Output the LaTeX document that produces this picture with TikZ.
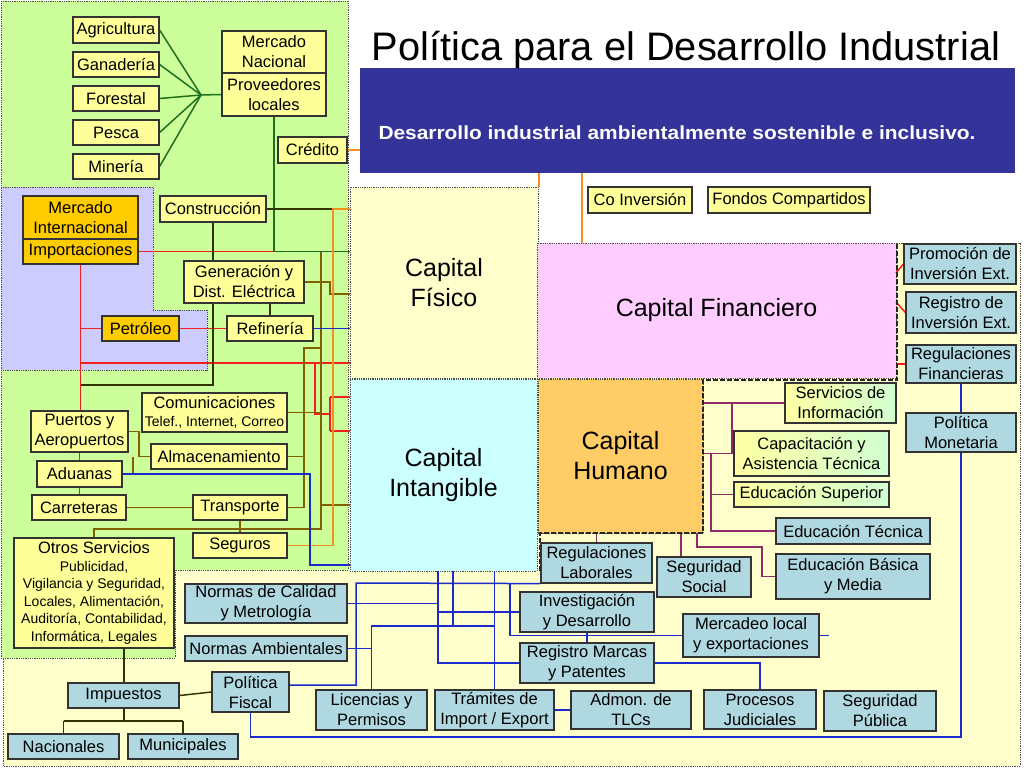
\documentclass[tikz,border=0pt]{standalone}
\usepackage{fontspec}
\setmainfont{Liberation Sans}
\usetikzlibrary{calc}
\definecolor{yel}{HTML}{FFFF99}
\definecolor{ora}{HTML}{FFCC00}
\definecolor{tealb}{HTML}{B0D8E0}
\definecolor{grn}{HTML}{CCFF99}
\definecolor{lav}{HTML}{CCCCFF}
\definecolor{lyel}{HTML}{FFFFCC}
\definecolor{cpink}{HTML}{FFCCFF}
\definecolor{ccyan}{HTML}{CCFFFF}
\definecolor{humc}{HTML}{FFCC66}
\definecolor{navyb}{HTML}{333399}
\definecolor{cdgreen}{HTML}{1F6F1F}
\definecolor{colive}{HTML}{806000}
\definecolor{cdark}{HTML}{333300}
\definecolor{cred}{HTML}{F02020}
\definecolor{corange}{HTML}{F59020}
\definecolor{cblue}{HTML}{1A2ACC}
\definecolor{cpurp}{HTML}{8E2A6A}
\newcommand\mybox[7]{\node[#6, minimum width={(#4)-(#2)}, minimum height={(#5)-(#3)}] (#1) at ({((#2)+(#4))/2},{((#3)+(#5))/2}) {#7};}
\newcommand\smf{\fontsize{14}{17.5}\selectfont}
\newcommand\bgf{\fontsize{16.5}{17.5}\selectfont}
\pgfdeclarelayer{back}
\pgfdeclarelayer{mid}
\pgfsetlayers{back,mid,main}
\tikzset{
 bx/.style={draw=black!80, line width=1.2pt, inner sep=0pt, align=center, font=\fontsize{16.5}{20}\selectfont},
 yb/.style={bx, fill=yel},
 ob/.style={bx, fill=ora},
 tb/.style={bx, fill=tealb},
 gb/.style={bx, left color=yel!90!white, right color=green!18!white},
 capbox/.style={draw=black!70, densely dotted, line width=0.8pt, inner sep=0pt, align=center, font=\fontsize{25}{30}\selectfont},
 lgreen/.style={draw=cdgreen, line width=1.5pt},
 lolive/.style={draw=colive, line width=1.5pt},
 ldark/.style={draw=cdark, line width=1.5pt},
 lred/.style={draw=cred, line width=1.5pt},
 lorange/.style={draw=corange, line width=1.5pt},
 lblue/.style={draw=cblue, line width=1.5pt},
 lpurp/.style={draw=cpurp, line width=1.5pt},
 frame/.style={draw=black!85, line width=2pt, dash pattern=on 5pt off 2pt},
}
\begin{document}
\begin{tikzpicture}[x=1pt,y=-1pt]
\useasboundingbox (0,0) rectangle (1024,768);
\begin{pgfonlayer}{back}
\fill[white] (0,0) rectangle (1024,768);
\fill[lyel] (3,243) rectangle (1020,766);
\draw[densely dotted, black!70, line width=0.8pt] (3,243) rectangle (1020,766);
\fill[grn] (1,1) -- (348,1) -- (348,570) -- (175,570) -- (175,658) -- (1,658) -- cycle;
\draw[densely dotted, black!70, line width=0.8pt] (1,1) -- (348,1) -- (348,570) -- (175,570) -- (175,658) -- (1,658) -- cycle;
\fill[lav] (1,187) -- (153,187) -- (153,310) -- (207,310) -- (207,370) -- (1,370) -- cycle;
\draw[densely dotted, black!70, line width=0.8pt] (1,187) -- (153,187) -- (153,310) -- (207,310) -- (207,370) -- (1,370) -- cycle;
\node[fill=navyb, minimum width=655, minimum height=105, inner sep=0pt] (banner) at (687.5,120.5) {};
\mybox{fis}{350}{187}{538}{378}{capbox, fill=lyel}{Capital\\Físico}
\mybox{fin}{537}{243}{896}{378}{capbox, fill=cpink}{Capital Financiero}
\mybox{intg}{350}{379}{537}{571}{capbox, fill=ccyan}{Capital\\Intangible}
\mybox{hum}{538}{379}{703}{533}{capbox, fill=humc}{Capital\\Humano}
\end{pgfonlayer}
% title and banner text
\node[font=\fontsize{39.8}{44}\selectfont, anchor=base, inner sep=0pt] (title) at (686,60) {Política para el Desarrollo Industrial};
\node[text=white, font=\bfseries\fontsize{19}{22}\selectfont, inner sep=0pt] (bannertext) at (677,133) {\scalebox{1.1}[1]{Desarrollo industrial ambientalmente sostenible e inclusivo.}};
% nodes top-left
\mybox{agri}{73}{17}{159}{43}{yb}{Agricultura}
\mybox{gan}{73}{52}{159}{77}{yb}{Ganadería}
\mybox{fore}{73}{86}{159}{111}{yb}{Forestal}
\mybox{pesc}{73}{120}{159}{145}{yb}{Pesca}
\mybox{mine}{73}{154}{159}{179}{yb}{Minería}
\mybox{mnac}{222}{31}{326}{73}{yb}{Mercado\\Nacional}
\mybox{prov}{222}{73}{326}{116}{yb}{Proveedores\\locales}
\mybox{cred}{278}{137}{347}{163}{yb}{Crédito}
\mybox{const}{160}{196}{266}{222}{yb}{Construcción}
\mybox{mint}{23}{196}{138}{239}{ob}{Mercado\\Internacional}
\mybox{imp}{23}{239}{138}{264}{ob}{Importaciones}
\mybox{gen}{184}{261}{304}{303}{yb}{Generación y\\Dist. Eléctrica}
\mybox{ref}{227}{316}{313}{341}{yb}{Refinería}
\mybox{pet}{102}{316}{179}{341}{ob}{Petróleo}
\mybox{com}{142}{393}{287}{432}{yb, font=\smf}{{\bgf Comunicaciones}\\Telef., Internet, Correo}
\mybox{alm}{151}{444}{287}{469}{yb}{Almacenamiento}
\mybox{pue}{31}{411}{128}{452}{yb}{Puertos y\\Aeropuertos}
\mybox{adu}{37}{461}{122}{487}{yb}{Aduanas}
\mybox{car}{32}{495}{126}{520}{yb}{Carreteras}
\mybox{tra}{193}{495}{287}{520}{yb}{Transporte}
\mybox{seg}{193}{533}{287}{558}{yb}{Seguros}
\mybox{otros}{14}{538}{174}{648}{yb, font=\smf}{{\bgf Otros Servicios}\\Publicidad,\\Vigilancia y Seguridad,\\Locales, Alimentación,\\Auditoría, Contabilidad,\\Informática, Legales}
% bottom and right
\mybox{imp2}{68}{683}{179}{708}{tb}{Impuestos}
\mybox{nac}{8}{734}{119}{759}{tb}{Nacionales}
\mybox{mun}{128}{734}{238}{759}{tb}{Municipales}
\mybox{pfis}{212}{672}{289}{712}{tb}{Política\\Fiscal}
\mybox{ncal}{185}{584}{347}{623}{tb}{Normas de Calidad\\y Metrología}
\mybox{namb}{185}{636}{347}{661}{tb}{Normas Ambientales}
\mybox{lic}{316}{690}{427}{730}{tb}{Licencias y\\Permisos}
\mybox{tram}{435}{690}{554}{730}{tb}{Trámites de\\Import / Export}
\mybox{adm}{571}{691}{691}{729}{tb}{Admon. de\\TLCs}
\mybox{proc}{704}{690}{816}{729}{tb}{Procesos\\Judiciales}
\mybox{segp}{824}{691}{936}{731}{tb}{Seguridad\\Pública}
\mybox{inv}{520}{592}{654}{632}{tb}{Investigación\\y Desarrollo}
\mybox{rmar}{520}{643}{654}{683}{tb}{Registro Marcas\\y Patentes}
\mybox{rlab}{541}{543}{652}{583}{tb}{Regulaciones\\Laborales}
\mybox{ssoc}{657}{557}{751}{597}{tb}{Seguridad\\Social}
\mybox{merc}{683}{614}{819}{657}{tb}{Mercadeo local\\y exportaciones}
\mybox{ebas}{776}{554}{930}{599}{tb}{Educación Básica\\y Media}
\mybox{etec}{776}{518}{930}{544}{tb}{Educación Técnica}
\mybox{esup}{734}{482}{889}{507}{gb}{Educación Superior}
\mybox{capa}{734}{431}{889}{476}{gb}{Capacitación y\\Asistencia Técnica}
\mybox{sinf}{785}{383}{896}{423}{gb}{Servicios de\\Información}
\mybox{pmon}{906}{413}{1016}{452}{tb}{Política\\Monetaria}
\mybox{rfin}{906}{345}{1016}{383}{tb}{Regulaciones\\Financieras}
\mybox{rinv}{906}{292}{1016}{333}{tb}{Registro de\\Inversión Ext.}
\mybox{pinv}{904}{244}{1016}{284}{tb}{Promoción de\\Inversión Ext.}
\mybox{coinv}{588}{187}{692}{213}{yb}{Co Inversión}
\mybox{fondos}{708}{187}{870}{213}{yb}{Fondos Compartidos}
% connectors
\begin{pgfonlayer}{mid}
\coordinate (hub) at (201,95);
\foreach \n in {agri,gan,fore,pesc,mine} \draw[lgreen] (\n.east) -- (hub);
\draw[lgreen] (hub) -- (prov.west);
\draw[lred] (imp.east) -- (274,251.5);
\draw[lgreen] (prov.south) -- (274,251.5) -- (fis.west |- 0,251.5);
\draw[lred] (imp.south) -- (imp.south |- pue.north);
\draw[lred] (80.5,328.5) -- (pet.west);
\draw[lred] (pet.east) -- (ref.west);
\draw[lred] (80.5,363) -- (fis.west |- 0,363);
\draw[lred] (315,363) -- (315,414) -- (330,414) (330,397) -- (330,431) (330,397) -- (intg.west |- 0,397) (330,431) -- (intg.west |- 0,431);
\draw[ldark] (const.east) -- (fis.west |- const.east);
\draw[ldark] (const.south) -- (const.south |- gen.north);
\draw[ldark] (const.south |- gen.south) -- (213,385) -- (80.5,385);
\draw[ldark] (270,303) -- (270,316);
\draw[lolive] (gen.east) -- (330,282) -- (330,294) -- (fis.west |- 0,294);
\draw[lolive] (321,251.5) -- (321,529) -- (94,529) -- (otros.north);
\draw[lolive] (com.east) -- (321,412.5);
\draw[lolive] (alm.east) -- (304,456.5);
\draw[lolive] (tra.east) -- (304,507.5) -- (304,348) -- (321,348);
\draw[lolive] (321,505) -- (intg.west |- 0,505);
\draw[lolive] (pue.east) -- (139,431.5) -- (139,456.5) -- (alm.west);
\draw[lolive] (133,456.5) -- (133,474);
\draw[lolive] (pue.south) -- (adu.north);
\draw[lolive] (adu.south) -- (adu.south |- car.north);
\draw[lolive] (car.east) -- (tra.west);
\draw[lolive] (tra.south) -- (seg.north);
\draw[lorange] (seg.east) -- (333,545.5) -- (333,209) -- (fis.west |- 0,209);
\draw[lorange] (banner.south -| 539,0) -- (fis.north -| 539,0);
\draw[lorange] (banner.south -| 582,0) -- (fin.north -| 582,0);
\draw[lorange] (cred.east) -- (banner.west |- cred.east);
\draw[lblue] (adu.east) -- (310,474) -- (310,565) -- (intg.west |- 0,565);
\draw[lblue] (ref.east) -- (fis.west |- ref.east);
\draw[lred] (896,273) -- (pinv.west);
\draw[lred] (896,302) -- (rinv.west);
\draw[lred] (fin.east |- rfin.west) -- (rfin.west);
\draw[lpurp] (hum.south -| rlab.north) -- (rlab.north);
\draw[lpurp] (hum.south -| 681,0) -- (ssoc.north -| 681,0);
\draw[lpurp] (697,533) -- (697,547) -- (762,547) -- (762,576.5) -- (ebas.west);
\draw[lpurp] (hum.east |- sinf.west) -- (sinf.west);
\draw[lpurp] (732,403) -- (732,453.5);
\draw[lpurp] (hum.east |- capa.west) -- (capa.west);
\draw[lpurp] (711,453.5) -- (711,531) -- (etec.west);
\draw[lpurp] (711,494.5) -- (esup.west);
\draw[lblue] (intg.south -| 438,0) -- (438,663) -- (rmar.west);
\draw[lblue] (ncal.east) -- (438,603.5);
\draw[lblue] (438,612) -- (inv.west);
\draw[lblue] (intg.south -| 453,0) -- (453,626);
\draw[lblue] (lic.north) -- (371.5,626) -- (494.5,626);
\draw[lblue] (intg.south -| 494.5,0) -- (tram.north);
\draw[lblue] (namb.east) -- (371.5,648.5);
\draw[lblue] (289,685) -- (356,685) -- (356,583) -- (rlab.south west);
\draw[lblue] (510,583) -- (510,635.5) -- (merc.west);
\draw[lblue] (inv.south) -- (rmar.north);
\draw[lblue] (rmar.east) -- (760,663) -- (proc.north);
\draw[lblue] (tram.east) -- (adm.west);
\draw[lblue] (merc.east) -- ++(9,0);
\draw[lblue] (pfis.south) -- (250.5,737) -- (961,737) -- (pmon.south);
\draw[lblue] (rfin.south) -- (pmon.north);
\draw[ldark] (imp2.east) -- (pfis.west);
\draw[ldark] (otros.south -| 124,0) -- (imp2.north -| 124,0);
\draw[ldark] (imp2.south -| 124,0) -- (124,721);
\draw[ldark] (nac.north |- 0,721) -- (mun.north |- 0,721);
\draw[ldark] (nac.north |- 0,721) -- (nac.north);
\draw[ldark] (mun.north |- 0,721) -- (mun.north);
\draw[frame] (540,571) -- (540,533) -- (703,533) -- (703,380) -- (897,380) -- (897,243);
\end{pgfonlayer}
\end{tikzpicture}
\end{document}
